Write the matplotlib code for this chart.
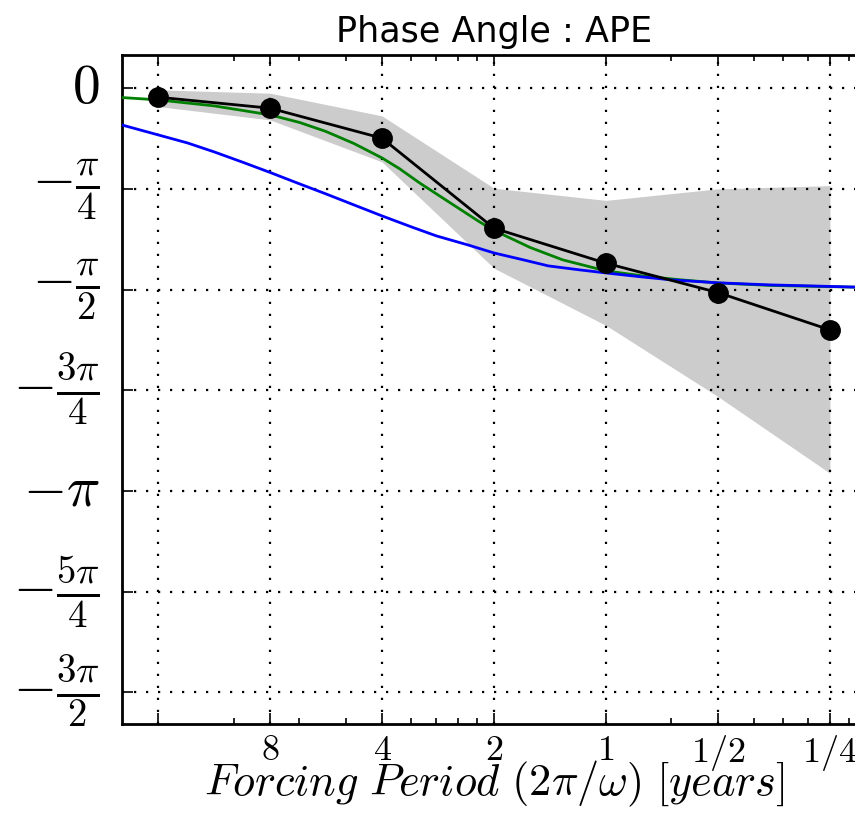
import numpy as np
import matplotlib
matplotlib.use('Agg')
from matplotlib import pyplot as plt
from matplotlib.ticker import FixedLocator, LogLocator, NullFormatter


plt.rcParams['mathtext.fontset'] = 'cm'
plt.rcParams['xtick.direction'] = 'in'
plt.rcParams['ytick.direction'] = 'in'
plt.rcParams['xtick.top'] = True
plt.rcParams['ytick.right'] = True

# forcing frequency in axis units (20 / period in years)
freq = [1.25, 2.5, 5, 10, 20, 40, 80]
period_labels = ['', '$8$', '$4$', '$2$', '$1$', '$1/2$', '$1/4$']

# APE phase from runs: mean and spread
ape_phase = [-0.070, -0.156, -0.390, -1.092, -1.365, -1.594, -1.885]
ape_upper = [-0.013, -0.039, -0.216, -0.780, -0.875, -0.785, -0.760]
ape_lower = [-0.143, -0.247, -0.575, -1.404, -1.850, -2.405, -3.003]

# model curves (green / blue)
green_freq = [1.0, 1.25, 1.77, 2.5, 3.0, 3.53, 4.2, 5.0, 5.58, 6.31, 7.45, 9.15, 10, 12.5,
              15.3, 20, 25.7, 31.6, 40, 55, 80, 100]
green_phase = [-0.073, -0.091, -0.138, -0.208, -0.267, -0.337, -0.431, -0.544, -0.629, -0.739,
               -0.875, -1.043, -1.109, -1.242, -1.339, -1.425, -1.468, -1.494, -1.519, -1.538,
               -1.548, -1.553]
blue_freq = [1.0, 1.25, 1.5, 1.77, 2.1, 2.5, 3.0, 3.53, 4.2, 5.0, 6.0, 7.0, 8.5, 10, 12, 14,
             17, 20, 25, 30, 40, 55, 80, 100]
blue_phase = [-0.287, -0.364, -0.427, -0.497, -0.575, -0.657, -0.746, -0.824, -0.910, -0.996,
              -1.082, -1.152, -1.222, -1.285, -1.339, -1.386, -1.417, -1.441, -1.472, -1.495,
              -1.518, -1.534, -1.546, -1.554]

phase_ticks = [0, -np.pi / 4, -np.pi / 2, -3 * np.pi / 4, -np.pi, -5 * np.pi / 4, -3 * np.pi / 2]
phase_labels = [r'$0$', r'$-\frac{\pi}{4}$', r'$-\frac{\pi}{2}$', r'$-\frac{3\pi}{4}$',
                r'$-\pi$', r'$-\frac{5\pi}{4}$', r'$-\frac{3\pi}{2}$']


fig = plt.figure(figsize=(4.275, 4.15), dpi=200)
ax = fig.add_axes([122 / 855, 1 - 723.5 / 830, 744 / 855, 668 / 830])

ax.fill_between(freq, ape_lower, ape_upper, color='0.8', linewidth=0, zorder=1)
ax.plot(green_freq, green_phase, color='g', linewidth=1.0, zorder=3)
ax.plot(blue_freq, blue_phase, color='b', linewidth=1.0, zorder=3)
ax.plot(freq, ape_phase, 'ko-', linewidth=1.0, markersize=6.5, zorder=4)

ax.set_xscale('log')
ax.set_xlim(1, 100)
ax.set_ylim(-4.955, 0.255)

ax.xaxis.set_major_locator(FixedLocator(freq))
ax.xaxis.set_minor_locator(LogLocator(base=10, subs=np.arange(2, 10)))
ax.xaxis.set_minor_formatter(NullFormatter())
ax.set_xticklabels(period_labels, fontsize=13)
ax.set_yticks(phase_ticks)
ax.set_yticklabels(phase_labels, fontsize=20, va='center')

ax.tick_params(which='major', length=4, width=0.6)
ax.tick_params(axis='y', which='major', pad=8)
ax.tick_params(axis='x', which='major', pad=3.3)
ax.tick_params(which='minor', length=2, width=0.6)
for s in ax.spines.values():
    s.set_linewidth(1.0)

ax.grid(True, which='major', color='k', linestyle=(0, (1, 4.4)), linewidth=0.8, zorder=2)
ax.set_axisbelow(False)

ax.set_xlabel(r'$Forcing\ Period\ (2\pi/\omega)\ [years]$', fontsize=16)
ax.xaxis.set_label_coords(0.5, -0.053)
ax.set_title('Phase Angle : APE', fontsize=12.6, pad=5)

fig.savefig('out.png', dpi=200, facecolor='white')
